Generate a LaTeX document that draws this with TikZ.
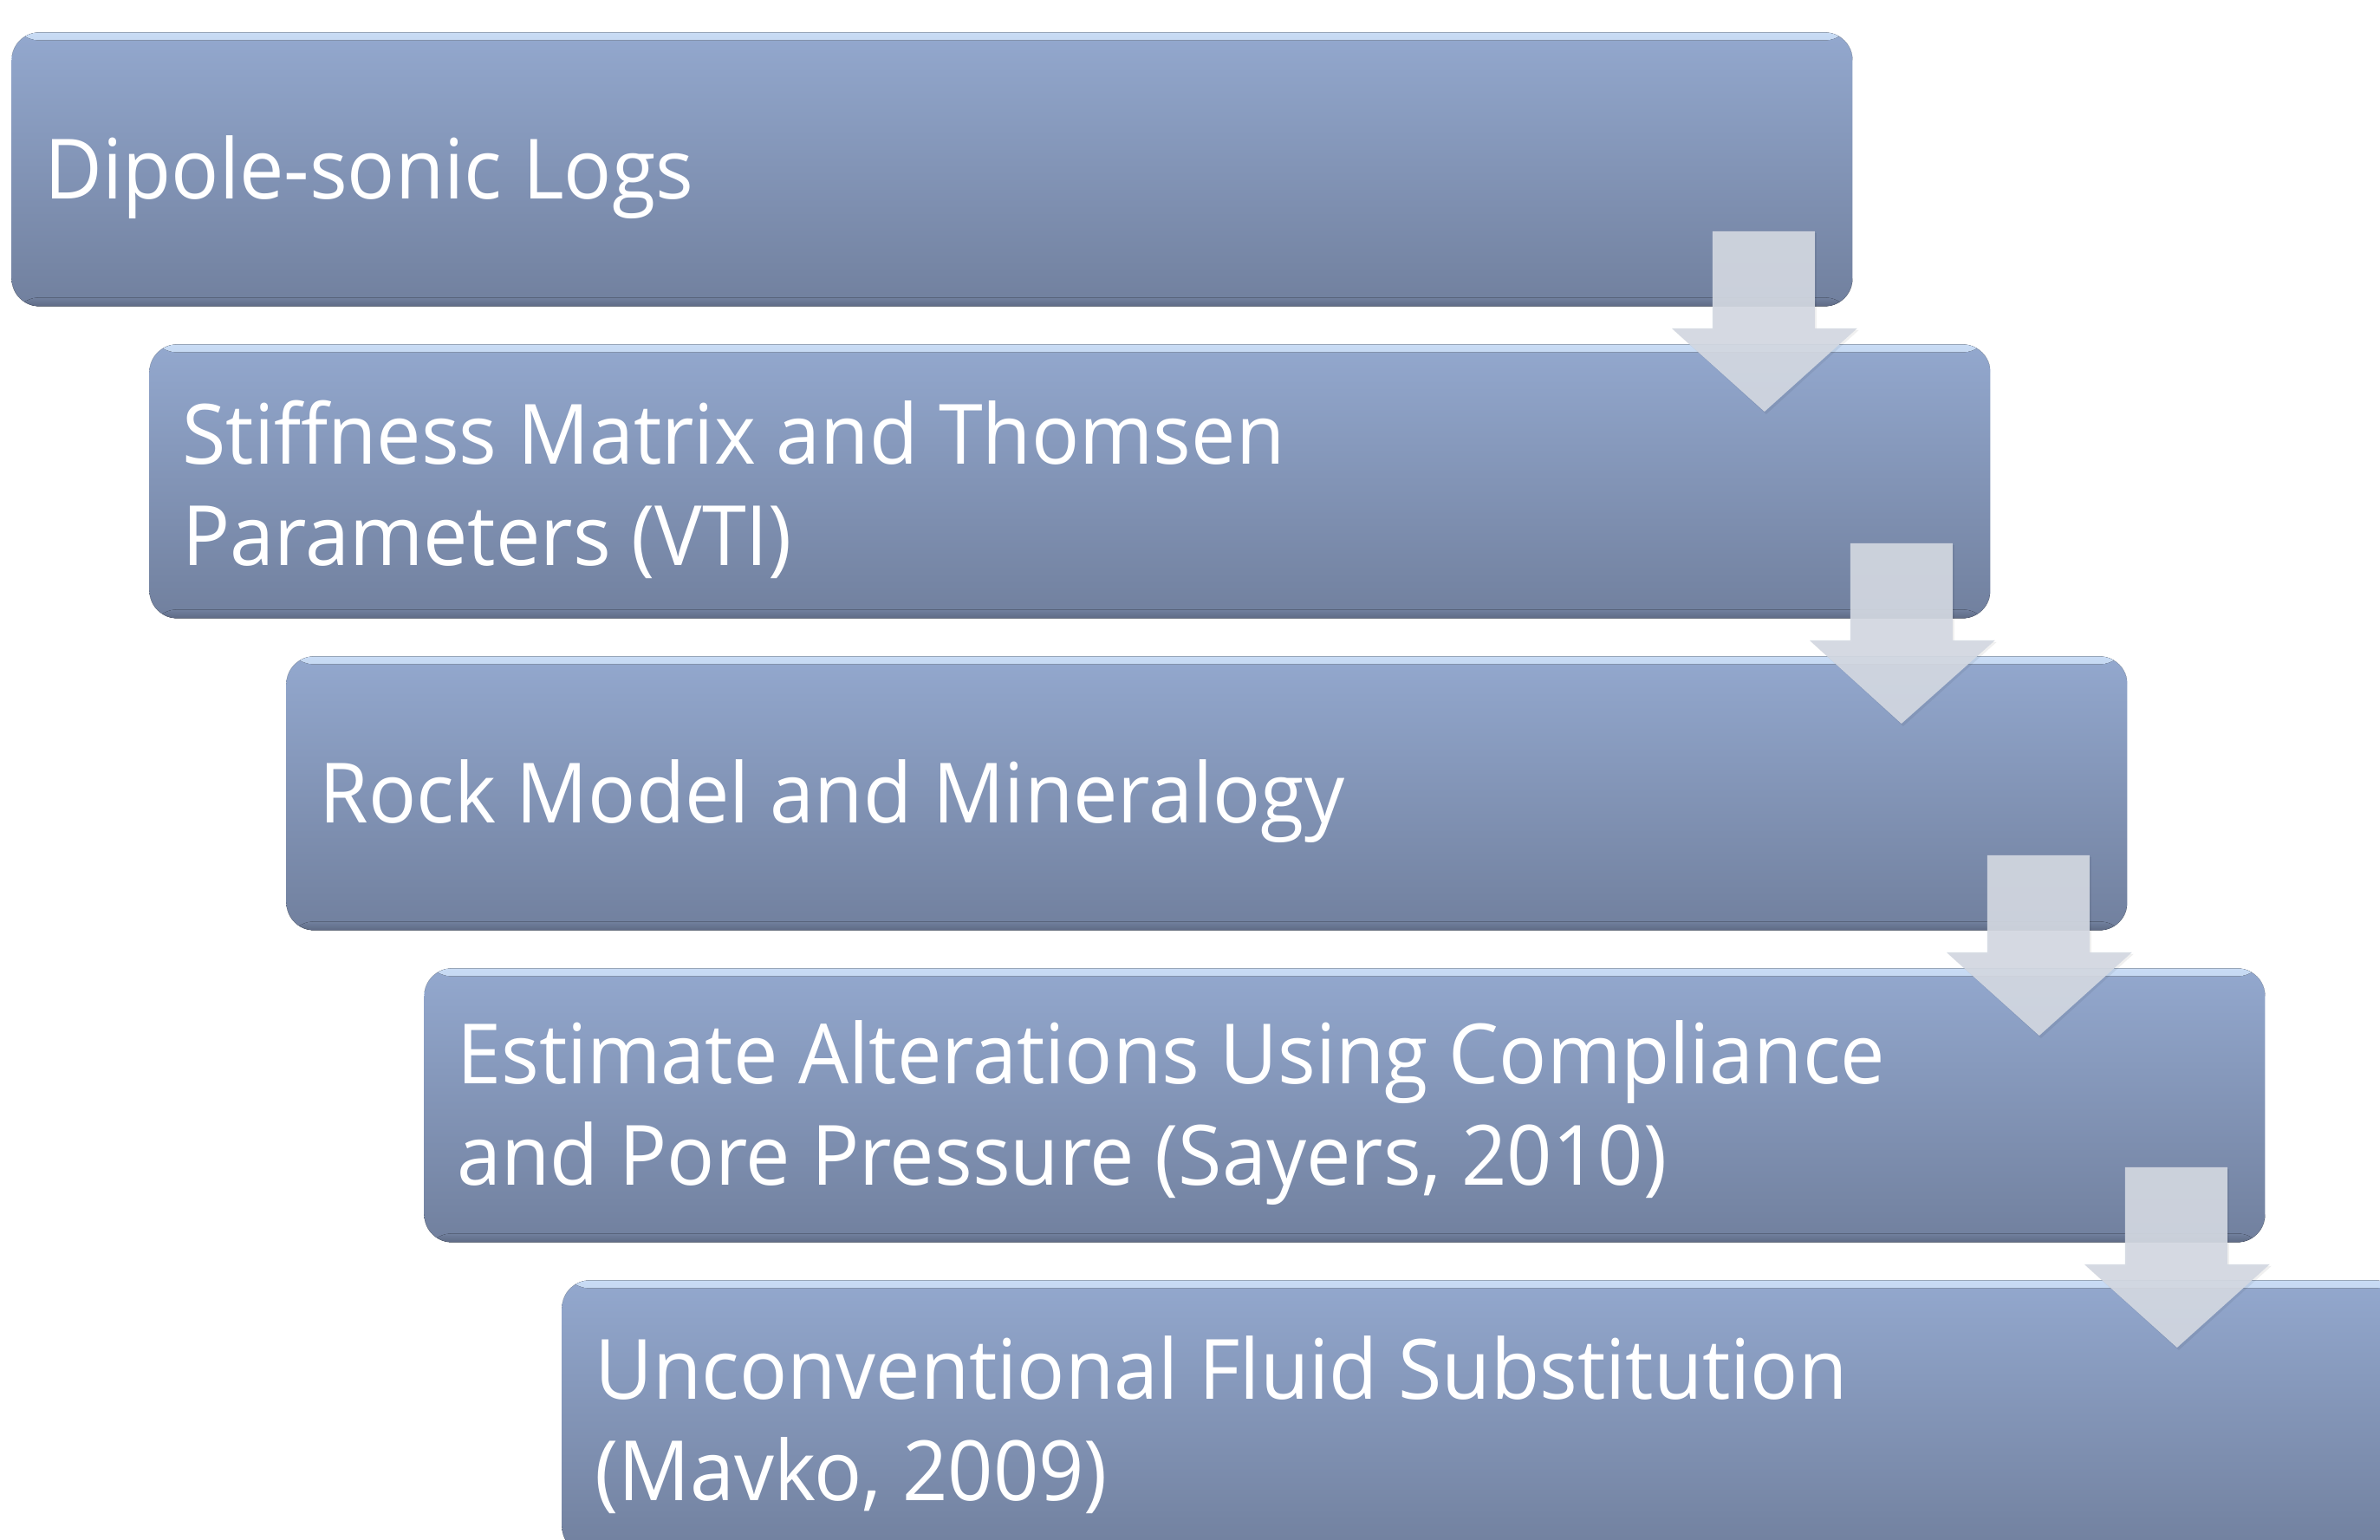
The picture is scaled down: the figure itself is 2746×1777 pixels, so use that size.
\documentclass[tikz,border=0pt]{standalone}
\usepackage{fontspec}
\setmainfont{Open Sans}[FakeStretch=0.955]
\usetikzlibrary{calc,backgrounds}
\definecolor{boxtop}{HTML}{93A8CE}
\definecolor{boxbot}{HTML}{71809E}
\definecolor{boxhi}{HTML}{C8DBF4}
\definecolor{boxlow}{HTML}{5E6A84}
\definecolor{arrowfill}{HTML}{D3D8E1}
\begin{document}
\begin{tikzpicture}[x=0.5pt,y=-0.5pt,
  stagebox/.style={rounded corners=16pt, anchor=north west,
    inner sep=0pt, minimum height=158pt, minimum width=1062pt,
    top color=boxtop, bottom color=boxbot, draw=none,
    path picture={
      \fill[top color=boxhi, bottom color=boxtop]
        (path picture bounding box.north west) rectangle
        ($(path picture bounding box.north east)+(0,9)$);
      \fill[top color=boxbot, bottom color=boxlow]
        ($(path picture bounding box.south west)+(0,-10)$) rectangle
        (path picture bounding box.south east);
    }},
  stagetext/.style={anchor=west, inner sep=0pt, align=left,
    text=white, font=\fontsize{48pt}{58.5pt}\selectfont},
  shadowlayer/.style={black, opacity=0.07, rounded corners=16pt},
  flowarrow/.style={fill=arrowfill, fill opacity=0.92, draw=none}]
\useasboundingbox (0,0) rectangle (2746,1777);
\fill[white] (0,0) rectangle (2746,1777);

\node[stagebox] (b1) at (13,37) {};
\node[stagebox] (b2) at (172,397) {};
\node[stagebox] (b3) at (330,757) {};
\node[stagebox] (b4) at (489,1117) {};
\node[stagebox] (b5) at (648,1477) {};

\node[stagetext] (t1) at ($(b1.west)+(38,9)$) {Dipole-sonic Logs};
\node[stagetext] (t2) at ($(b2.west)+(38,9)$) {Stiffness Matrix and Thomsen\\Parameters (VTI)};
\node[stagetext] (t3) at ($(b3.west)+(38,9)$) {Rock Model and Mineralogy};
\node[stagetext] (t4) at ($(b4.west)+(38,9)$) {Estimate Alterations Using Compliance\\and Pore Pressure (Sayers, 2010)};
\node[stagetext] (t5) at ($(b5.west)+(38,9)$) {Unconventional Fluid Substitution\\(Mavko, 2009)};

\begin{scope}[on background layer]
  \foreach \b in {b1,b2,b3,b4,b5}{
    \foreach \d in {3,7,11,15}{
      \fill[shadowlayer] ($(\b.north west)+(-1,\d)$) rectangle ($(\b.south east)+(1,\d)$);
    }
  }
\end{scope}

\foreach \a/\b in {b1/b2,b2/b3,b3/b4,b4/b5}{
  \fill[black, opacity=0.06]
    ($(\a.south east)+(-160,-85)$) -- ($(\a.south east)+(-42,-85)$) --
    ($(\a.south east)+(-42,27)$) -- ($(\a.south east)+(7,27)$) --
    ($(\b.north east)+(-259,81)$) --
    ($(\a.south east)+(-207,27)$) -- ($(\a.south east)+(-160,27)$) -- cycle;
  \fill[flowarrow]
    ($(\a.south east)+(-162,-87)$) -- ($(\a.south east)+(-44,-87)$) --
    ($(\a.south east)+(-44,25)$) -- ($(\a.south east)+(5,25)$) --
    ($(\b.north east)+(-261,78)$) --
    ($(\a.south east)+(-209,25)$) -- ($(\a.south east)+(-162,25)$) -- cycle;
}
\end{tikzpicture}
\end{document}
